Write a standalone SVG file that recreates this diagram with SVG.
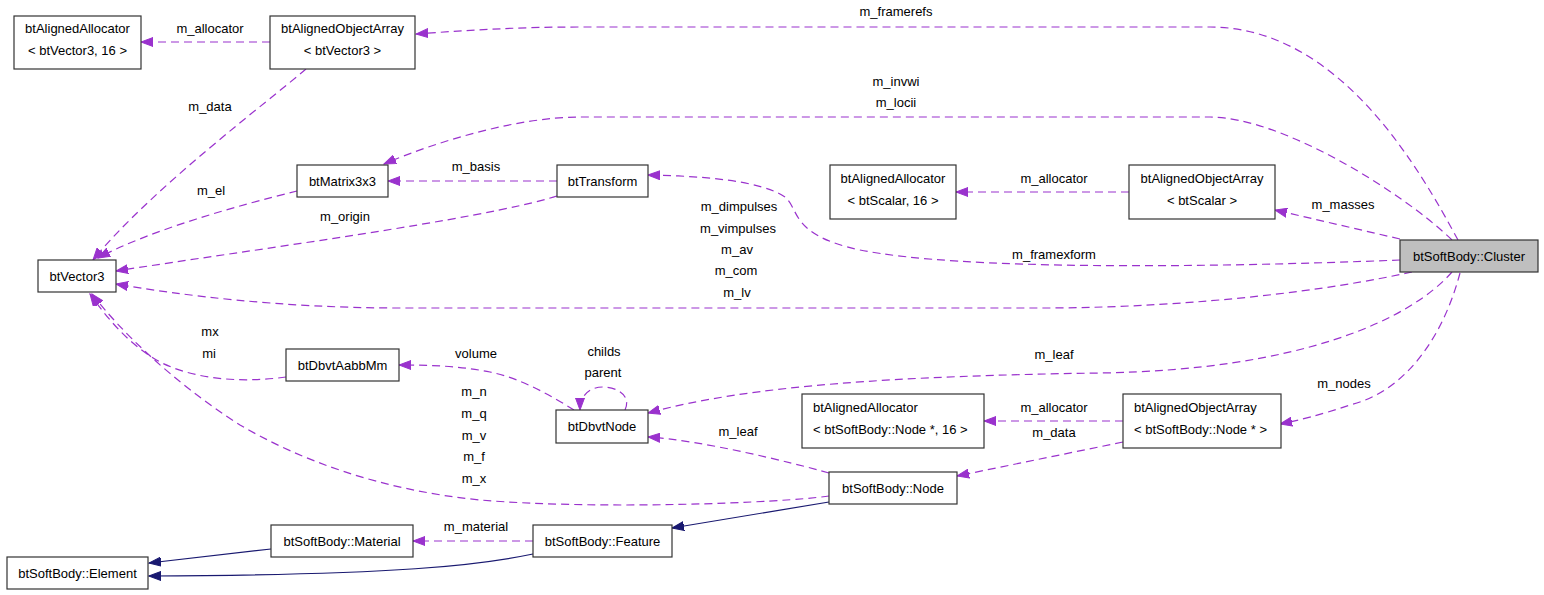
<svg xmlns="http://www.w3.org/2000/svg" width="1544" height="595" viewBox="0 0 1544 595">
<defs>
<marker id="ap" markerUnits="userSpaceOnUse" markerWidth="13" markerHeight="10" refX="12" refY="5" orient="auto"><path d="M0,0.5 L12,5 L0,9.5 Z" fill="#9a32cd" stroke="#9a32cd"/></marker>
<marker id="an" markerUnits="userSpaceOnUse" markerWidth="13" markerHeight="10" refX="12" refY="5" orient="auto"><path d="M0,0.5 L12,5 L0,9.5 Z" fill="#191970" stroke="#191970"/></marker>
<style>
text{font-family:"Liberation Sans",Arial,sans-serif;font-size:13px;fill:#000}
.c{text-anchor:middle}
.b{fill:#fff;stroke:#333;stroke-width:1.2}
.g{fill:#bfbfbf;stroke:#333;stroke-width:1.2}
.d{fill:none;stroke:#9a32cd;stroke-width:1.2;stroke-dasharray:8,5;marker-end:url(#ap)}
.n{fill:none;stroke:#191970;stroke-width:1.2;marker-end:url(#an)}
</style>
</defs>
<rect width="1544" height="595" fill="#fff"/>
<g id="connectors">
<path class="d" d="M270,42 L141,42"/>
<path class="d" d="M306,69 C270,100 150,190 93,260"/>
<path class="d" d="M1458,240 C1420,170 1340,27 1210,27 L580,27 C520,27 470,30 416,34"/>
<path class="d" d="M1452,240 C1400,190 1280,117 1210,117 L580,117 C520,117 440,140 384,164"/>
<path class="d" d="M557,181 L388,181"/>
<path class="d" d="M557,196 C480,220 250,250 116,271"/>
<path class="d" d="M297,191 C240,205 150,230 98,258"/>
<path class="d" d="M1129,192 L956,192"/>
<path class="d" d="M1400,239 L1275,210"/>
<path class="d" d="M1400,260 C1200,268 960,270 860,250 C790,235 800,210 785,197 C760,180 700,176 648,175"/>
<path class="d" d="M1412,272 C1330,290 1200,307 1050,308 L400,308 C280,308 180,295 116,284"/>
<path class="d" d="M1452,272 C1410,320 1300,370 1100,373 C900,376 750,385 648,413"/>
<path class="d" d="M1460,273 C1445,330 1410,390 1350,405 C1320,415 1300,420 1280,424"/>
<path class="d" d="M1123,421 L984,421"/>
<path class="d" d="M1123,442 L957,476"/>
<path class="d" d="M829,473 C790,462 700,440 648,437"/>
<path class="d" d="M829,496 C780,503 600,510 480,500 C380,490 300,460 240,425 C170,380 120,330 92,294"/>
<path class="d" d="M286,377 C250,382 200,382 160,362 C130,345 110,322 90,294"/>
<path class="d" d="M574,410 C550,395 520,378 490,372 C460,366 430,365 399,365"/>
<path class="d" d="M625,410 C632,395 616,387 603,387 C590,387 580,395 580,410"/>
<path class="d" d="M533,541 L413,541"/>
<path class="n" d="M829,502 L672,528"/>
<path class="n" d="M271,549 L149,563"/>
<path class="n" d="M533,554 C480,565 400,575 149,576"/>
</g>
<g id="labels">
<text class="c" x="210" y="33">m_allocator</text>
<text class="c" x="210" y="111">m_data</text>
<text class="c" x="896" y="16">m_framerefs</text>
<text class="c" x="896" y="86">m_invwi</text>
<text class="c" x="896" y="107">m_locii</text>
<text class="c" x="476" y="171">m_basis</text>
<text class="c" x="211" y="195">m_el</text>
<text class="c" x="345" y="221">m_origin</text>
<text class="c" x="1054" y="183">m_allocator</text>
<text class="c" x="1343" y="209">m_masses</text>
<text class="c" x="739" y="211">m_dimpulses</text>
<text class="c" x="738" y="233">m_vimpulses</text>
<text class="c" x="737" y="254">m_av</text>
<text class="c" x="736" y="275">m_com</text>
<text class="c" x="737" y="297">m_lv</text>
<text class="c" x="1054" y="259">m_framexform</text>
<text class="c" x="210" y="336">mx</text>
<text class="c" x="209" y="358">mi</text>
<text class="c" x="476" y="358">volume</text>
<text class="c" x="604" y="356">childs</text>
<text class="c" x="603" y="377">parent</text>
<text class="c" x="1054" y="359">m_leaf</text>
<text class="c" x="1344" y="388">m_nodes</text>
<text class="c" x="474" y="396">m_n</text>
<text class="c" x="474" y="418">m_q</text>
<text class="c" x="474" y="440">m_v</text>
<text class="c" x="474" y="461">m_f</text>
<text class="c" x="474" y="483">m_x</text>
<text class="c" x="1054" y="412">m_allocator</text>
<text class="c" x="1054" y="437">m_data</text>
<text class="c" x="738" y="436">m_leaf</text>
<text class="c" x="476" y="531">m_material</text>
</g>
<g id="node-aa-vec3"><rect class="b" x="14" y="16" width="127" height="53"/><text class="c" x="77.5" y="33">btAlignedAllocator</text><text class="c" x="77.5" y="55">&lt; btVector3, 16 &gt;</text></g>
<g id="node-aoa-vec3"><rect class="b" x="270" y="16" width="145" height="53"/><text class="c" x="342.5" y="33">btAlignedObjectArray</text><text class="c" x="342.5" y="55">&lt; btVector3 &gt;</text></g>
<g id="node-matrix"><rect class="b" x="297" y="165" width="91" height="32"/><text class="c" x="342.5" y="185.5">btMatrix3x3</text></g>
<g id="node-transform"><rect class="b" x="557" y="165" width="91" height="32"/><text class="c" x="602.5" y="185.5">btTransform</text></g>
<g id="node-aa-scalar"><rect class="b" x="830" y="165" width="126" height="54"/><text class="c" x="893" y="183">btAlignedAllocator</text><text class="c" x="893" y="205">&lt; btScalar, 16 &gt;</text></g>
<g id="node-aoa-scalar"><rect class="b" x="1129" y="165" width="146" height="54"/><text class="c" x="1202" y="183">btAlignedObjectArray</text><text class="c" x="1202" y="205">&lt; btScalar &gt;</text></g>
<g id="node-cluster"><rect class="g" x="1400" y="240" width="138" height="32"/><text class="c" x="1469" y="260.5">btSoftBody::Cluster</text></g>
<g id="node-vector3"><rect class="b" x="38" y="260" width="78" height="32"/><text class="c" x="77" y="280.5">btVector3</text></g>
<g id="node-aabbmm"><rect class="b" x="286" y="349" width="113" height="32"/><text class="c" x="342.5" y="369.5">btDbvtAabbMm</text></g>
<g id="node-dbvtnode"><rect class="b" x="556" y="410" width="92" height="33"/><text class="c" x="602" y="431">btDbvtNode</text></g>
<g id="node-aa-node"><rect class="b" x="802" y="394" width="182" height="54"/><text x="813" y="412">btAlignedAllocator</text><text x="813" y="434">&lt; btSoftBody::Node *, 16 &gt;</text></g>
<g id="node-aoa-node"><rect class="b" x="1123" y="394" width="158" height="54"/><text x="1134" y="412">btAlignedObjectArray</text><text x="1134" y="434">&lt; btSoftBody::Node * &gt;</text></g>
<g id="node-node"><rect class="b" x="829" y="472" width="128" height="32"/><text class="c" x="893" y="492.5">btSoftBody::Node</text></g>
<g id="node-material"><rect class="b" x="271" y="525" width="142" height="32"/><text class="c" x="342" y="545.5">btSoftBody::Material</text></g>
<g id="node-feature"><rect class="b" x="533" y="525" width="139" height="32"/><text class="c" x="602.5" y="545.5">btSoftBody::Feature</text></g>
<g id="node-element"><rect class="b" x="7" y="557" width="141" height="32"/><text class="c" x="77.5" y="577.5">btSoftBody::Element</text></g>
</svg>
